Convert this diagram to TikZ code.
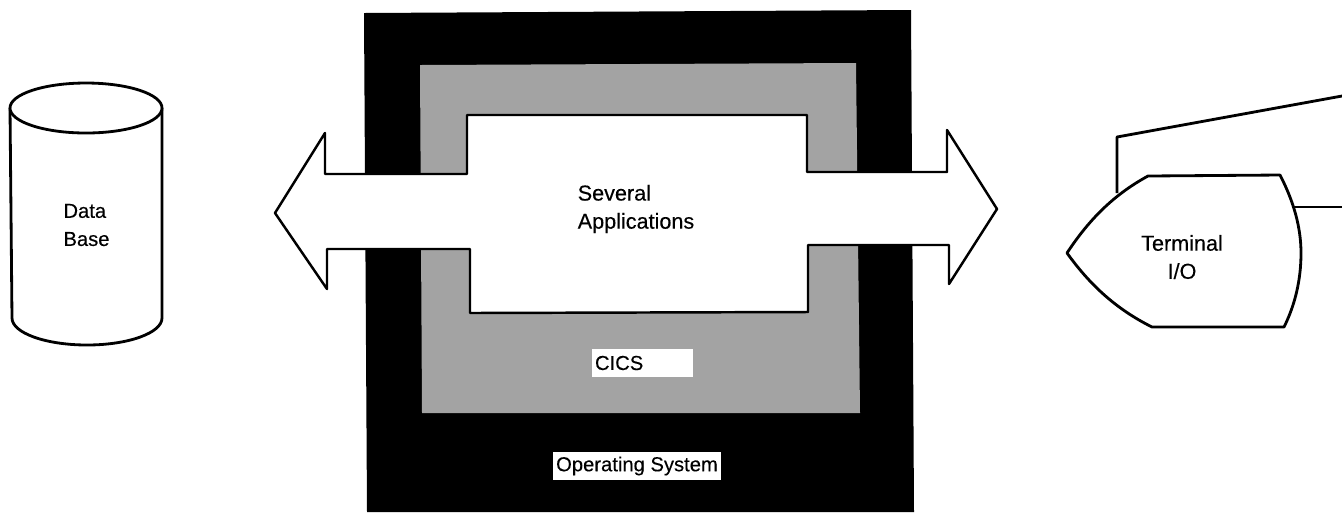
\documentclass[tikz,border=0pt]{standalone}
\usepackage{fontspec}
\setmainfont[FakeBold=0.25]{Liberation Sans}
\tikzset{
  outline/.style={draw=black,line width=1.4pt,line join=round},
  caption/.style={font=\fontsize{12.3}{16}\selectfont,align=left,inner sep=0pt},
  tag/.style={fill=white,font=\fontsize{11.5}{14}\selectfont,inner sep=0pt},
}
\begin{document}
\begin{tikzpicture}[x=0.02cm,y=-0.02cm]
  \useasboundingbox (0,0) rectangle (1342,512);
  % layers
  \fill[black] (364,13) -- (911,10) -- (914,512) -- (367,512) -- cycle;
  \fill[black!36] (420,65) -- (856,63) -- (860,413) -- (422,413) -- cycle;
  % applications and the two way arrow
  \draw[outline,fill=white] (275,213) -- (325,133) -- (325,174) -- (467,174) -- (467,115)
    -- (807,115) -- (807,172) -- (947,172) -- (947,130) -- (997,209) -- (949,284)
    -- (949,245) -- (808,245) -- (808,312) -- (470,313) -- (470,249) -- (327,249)
    -- (327,289) -- cycle;
  \node[caption] (apps) at (636,209) {Several\\Applications};
  \node[tag,minimum width=2.02cm,minimum height=0.56cm,text width=1.9cm] (cics) at (642.5,363) {CICS};
  \node[tag,minimum width=3.38cm,minimum height=0.56cm] (opsys) at (637,466) {Operating System};
  % data base
  \draw[outline,line width=1.6pt,fill=white] (10,108) -- (12,318) arc[start angle=180,end angle=0,x radius=75,y radius=27]
    -- (162,108);
  \draw[outline,line width=1.6pt,fill=white] (86,108) ellipse[x radius=76,y radius=25];
  \node[caption,font=\fontsize{11.5}{16}\selectfont] (data) at (86.5,225) {Data\\Base};
  % terminal
  \coordinate (corner) at (1117,137);
  \coordinate (topend) at (1342,96);
  \coordinate (backend) at (1342,207);
  \coordinate (backstart) at (1294,207);
  \coordinate (frontstart) at (1117,193);
  \draw[outline,line width=1.6pt] (frontstart) -- (corner) -- (topend);
  \draw[outline] (backstart) -- (backend);
  \draw[outline,line width=1.6pt,fill=white] (1067,253) .. controls (1090,218) and (1115,194) .. (1148,176) -- (1280,175)
    .. controls (1294,202) and (1301,228) .. (1301,253)
    .. controls (1301,280) and (1295,305) .. (1284,327) -- (1152,327)
    .. controls (1116,309) and (1090,285) .. cycle;
  \node[caption,align=center] (term) at (1182,257) {Terminal\\I/O};
\end{tikzpicture}
\end{document}
